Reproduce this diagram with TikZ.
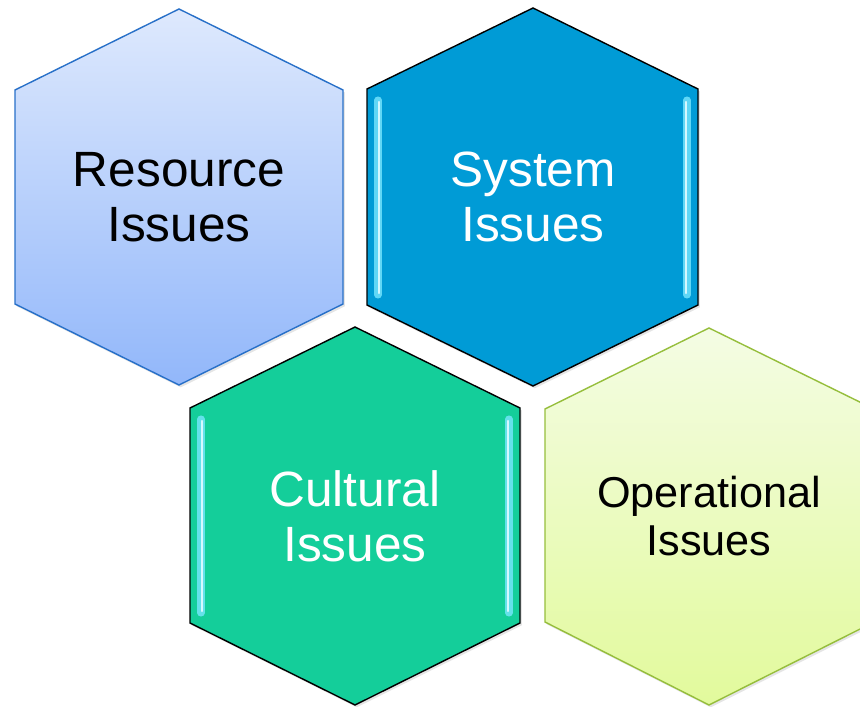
\documentclass[tikz,border=0pt]{standalone}
\usepackage{fontspec}
\setmainfont{Liberation Sans}
\usetikzlibrary{shadows}

\definecolor{resTop}{RGB}{222,233,253}
\definecolor{resBot}{RGB}{146,183,250}
\definecolor{resLine}{RGB}{40,112,200}
\definecolor{sysFill}{RGB}{0,155,214}
\definecolor{culFill}{RGB}{20,206,154}
\definecolor{opTop}{RGB}{244,252,228}
\definecolor{opBot}{RGB}{226,250,156}
\definecolor{opLine}{RGB}{150,190,60}
\definecolor{glint}{RGB}{120,230,255}

\begin{document}
\begin{tikzpicture}[x=0.03cm, y=-0.03cm,
  hexshadow/.style={drop shadow={opacity=0.2, shadow xshift=1.5pt, shadow yshift=-2pt}},
  bigtext/.style={align=center, font=\fontsize{42.3}{46.8}\selectfont},
  smalltext/.style={align=center, font=\fontsize{36.9}{40.5}\selectfont},
  shine/.style={line width=6pt, glint, opacity=0.8, line cap=round},
  shinecore/.style={line width=2pt, white!70!glint, line cap=round}]
\useasboundingbox (0, 0) rectangle (860, 707);
\fill[white] (0, 0) rectangle (860, 707);
\clip (0, 0) rectangle (860, 707);
% resource
\shade[hexshadow, top color=resTop, bottom color=resBot, draw=resLine, line width=1.2pt] (179, 9) -- (343, 90) -- (343, 304) -- (179, 385) -- (15, 304) -- (15, 90) -- cycle;
% system
\fill[hexshadow, sysFill, draw=black, line width=1.2pt] (533, 8) -- (698, 89) -- (698, 305) -- (533, 386) -- (367, 305) -- (367, 89) -- cycle;
\draw[shine] (378, 100) -- (378, 295);
\draw[shine] (687, 100) -- (687, 295);
\draw[shinecore] (379, 102) -- (379, 293);
\draw[shinecore] (686, 102) -- (686, 293);
% cultural
\fill[hexshadow, culFill, draw=black, line width=1.2pt] (355, 327) -- (520, 408) -- (520, 623) -- (355, 705) -- (190, 623) -- (190, 408) -- cycle;
\draw[shine] (201, 419) -- (201, 613);
\draw[shine] (509, 419) -- (509, 613);
\draw[shinecore] (202, 421) -- (202, 611);
\draw[shinecore] (508, 421) -- (508, 611);
% operational
\shade[hexshadow, top color=opTop, bottom color=opBot, draw=opLine, line width=1.2pt] (709, 328) -- (874, 409) -- (874, 622) -- (709, 705) -- (545, 622) -- (545, 409) -- cycle;
\node[bigtext] (resource) at (179, 197) {Resource\\Issues};
\node[bigtext, white] (system) at (533, 197) {System\\Issues};
\node[bigtext, white] (cultural) at (355, 516) {Cultural\\Issues};
\node[smalltext] (operational) at (709, 516) {Operational\\Issues};
\end{tikzpicture}
\end{document}
